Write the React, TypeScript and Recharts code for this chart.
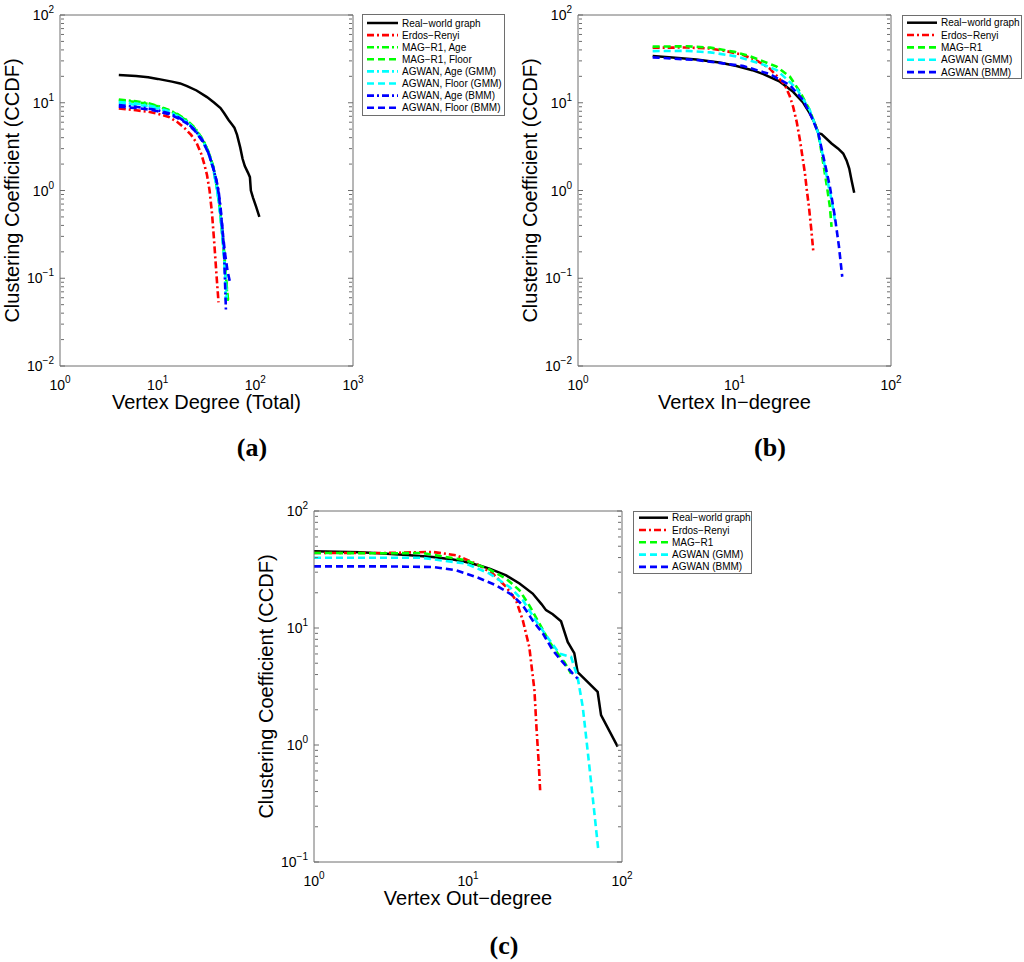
import React from 'react';
import { LineChart, Line, XAxis, YAxis } from 'recharts';

// ---------------- data: panel (a) ----------------
const realA_x = [4, 6, 8, 10, 14, 17, 20, 25, 32, 38, 44, 48, 53, 58, 61, 65, 70, 74, 78, 84, 88, 90, 95, 102, 110];
const realA_y = [20.7, 20.2, 19.5, 18.7, 17.4, 16.6, 15.5, 13.8, 11.6, 10.0, 8.7, 7.6, 6.4, 5.6, 5.2, 4.3, 3.1, 2.3, 1.9, 1.6, 1.42, 1.0, 0.82, 0.65, 0.5];
const erA_x = [4, 6, 8, 10, 13, 16, 19, 22, 25, 28, 30, 32, 34, 36, 38, 40, 42];
const erA_y = [8.6, 8.2, 7.9, 7.5, 6.9, 6.0, 5.1, 4.3, 3.5, 2.6, 2.0, 1.5, 1.0, 0.55, 0.25, 0.11, 0.053];
const magAgeA_x = [4, 6, 8, 10, 13, 16, 20, 24, 29, 33, 37, 40, 42, 44, 46, 48, 50, 52];
const magAgeA_y = [10.9, 10.4, 9.9, 9.2, 8.3, 7.4, 6.3, 5.2, 3.8, 2.8, 1.9, 1.2, 0.85, 0.55, 0.33, 0.2, 0.11, 0.055];
const magFloorA_x = [4, 6, 8, 10, 13, 16, 20, 24, 29, 33, 37, 40, 42, 44, 46, 48, 50, 53];
const magFloorA_y = [10.7, 10.2, 9.7, 9.1, 8.2, 7.3, 6.2, 5.1, 3.8, 2.8, 1.85, 1.15, 0.8, 0.5, 0.3, 0.18, 0.1, 0.052];
const gmmAgeA_x = [4, 6, 8, 10, 13, 16, 20, 24, 29, 33, 37, 40, 42, 44, 46, 48, 49, 50];
const gmmAgeA_y = [10.2, 9.8, 9.3, 8.8, 8.0, 7.1, 6.1, 5.0, 3.7, 2.7, 1.8, 1.1, 0.78, 0.5, 0.3, 0.17, 0.1, 0.055];
const gmmFloorA_x = [4, 6, 8, 10, 13, 16, 20, 24, 29, 33, 37, 40, 42, 44, 46, 48, 50, 51];
const gmmFloorA_y = [9.9, 9.5, 9.1, 8.6, 7.9, 7.0, 6.0, 4.9, 3.7, 2.7, 1.8, 1.15, 0.82, 0.52, 0.31, 0.17, 0.09, 0.06];
const bmmAgeA_x = [4, 6, 8, 10, 13, 16, 20, 24, 29, 33, 37, 40, 42, 44, 46, 48, 50];
const bmmAgeA_y = [9.4, 9.0, 8.6, 8.2, 7.6, 6.9, 5.9, 4.9, 3.7, 2.7, 1.8, 1.3, 1.0, 0.65, 0.38, 0.18, 0.043];
const bmmFloorA_x = [4, 6, 8, 10, 13, 16, 20, 24, 29, 33, 37, 40, 42, 44, 46, 49, 52, 55];
const bmmFloorA_y = [9.0, 8.7, 8.4, 8.0, 7.4, 6.7, 5.8, 4.8, 3.6, 2.7, 1.85, 1.3, 0.95, 0.6, 0.36, 0.19, 0.12, 0.09];

// ---------------- data: panel (b) ----------------
const realB_x = [3, 4, 5.7, 8, 10.3, 13, 15.3, 19.5, 23.7, 27.5, 30, 31.9, 33, 34.3, 36, 41.7, 46, 49.5, 52, 54.1, 56, 58.2];
const realB_y = [34, 32.8, 31.2, 28.8, 26.2, 23.5, 21.2, 17.4, 13.3, 10, 7.8, 6.3, 5.5, 4.5, 4.4, 3.43, 3.0, 2.64, 2.2, 1.78, 1.3, 0.94];
const erB_x = [3, 5, 7, 9, 11.4, 14, 16.8, 19, 21, 22.5, 23.7, 25, 26.2, 27.2, 28.2, 29, 29.9, 31, 31.9];
const erB_y = [42.4, 42.6, 41.5, 38.5, 35, 30, 24.5, 19.5, 15.9, 12, 9, 6, 3.75, 2.4, 1.56, 1.0, 0.65, 0.35, 0.2];
const magB_x = [3, 5, 7, 10, 12.5, 15, 18.6, 22.6, 26.2, 30.3, 34.3, 36, 37.8, 39.3, 40.7, 41.7];
const magB_y = [43.6, 44, 42.5, 38, 34, 30, 25.8, 19.8, 13.3, 8.2, 4.47, 2.7, 1.56, 1.0, 0.65, 0.385];
const gmmB_x = [3, 5, 7, 10, 11.4, 15, 18.6, 24.9, 30.3, 34.3, 36.5, 37.8, 40, 41.7, 43.8];
const gmmB_y = [38.8, 39, 37.5, 34, 32, 27.5, 23.6, 14.6, 8.2, 4.47, 2.6, 1.86, 1.1, 0.78, 0.46];
const bmmB_x = [3, 5.7, 8, 11.4, 16.8, 22.6, 27.5, 31.1, 34.3, 37.8, 40.7, 43.8, 46.5, 48.8];
const bmmB_y = [32.9, 30.7, 28.5, 26.2, 21.2, 15.9, 10.7, 6.9, 4.47, 2.03, 1.1, 0.5, 0.23, 0.104];

// ---------------- data: panel (c) ----------------
const realC_x = [1, 2, 2.8, 4, 5.9, 8, 9.7, 12, 13.8, 17.7, 21.6, 26.3, 30, 32.1, 35.5, 40.2, 44.4, 49, 51.5, 55.6, 69.5, 73.1, 93.7];
const realC_y = [45.3, 44.5, 43.3, 42, 40.5, 38.5, 36.6, 34, 32.2, 28.2, 24, 19.7, 16, 14.2, 13.1, 11.4, 7.6, 6.1, 4.2, 3.8, 2.84, 1.8, 0.97];
const erC_x = [1, 3, 5.9, 8.4, 11.3, 14.5, 17.7, 20.5, 22.7, 25, 27, 27.9, 28.8, 29.4];
const erC_y = [43.8, 43.8, 44.7, 41.8, 35.4, 29.2, 22.4, 17.3, 11.6, 6.9, 2.94, 1.34, 0.695, 0.41];
const magC_x = [1, 3, 5, 9.7, 13.8, 17.7, 21.6, 25, 29.1, 33.8, 38.3, 42.3, 46.7];
const magC_y = [43.8, 43.5, 43.8, 37.9, 31.6, 26.4, 21, 15.6, 10.9, 7.6, 6.05, 5.1, 4.08];
const gmmC_x = [1, 3, 5, 9.7, 13.8, 18.6, 22.7, 27.9, 33.8, 39.2, 46.7, 51.5, 55.6, 59.8, 64.5, 70.2];
const gmmC_y = [39.8, 39.8, 39.8, 35.5, 29.2, 22.4, 17.3, 11.3, 7.9, 6.05, 5.66, 3.8, 2.12, 0.9, 0.36, 0.126];
const bmmC_x = [1, 3, 6, 8.4, 11.3, 15.2, 19.5, 22.7, 26.3, 30.6, 35.5, 41.2, 47.9, 51.5];
const bmmC_y = [33.6, 33.6, 33.2, 31.1, 27.3, 23.2, 19, 15.6, 11.6, 9, 6.46, 5.1, 4.08, 3.7];

// ---------------- tick values ----------------
const xTicksA = [1, 10, 100, 1000];
const xTicksBC = [1, 10, 100];
const yTicksAB = [0.01, 0.1, 1, 10, 100];
const yTicksC = [0.1, 1, 10, 100];

const labelsA = ['Real\u2212world graph', 'Erdos\u2212Renyi', 'MAG\u2212R1, Age', 'MAG\u2212R1, Floor', 'AGWAN, Age (GMM)', 'AGWAN, Floor (GMM)', 'AGWAN, Age (BMM)', 'AGWAN, Floor (BMM)'];
const labelsBC = ['Real\u2212world graph', 'Erdos\u2212Renyi', 'MAG\u2212R1', 'AGWAN (GMM)', 'AGWAN (BMM)'];

// ---------------- styles ----------------
const SANS = '"Liberation Sans", Arial, Helvetica, sans-serif';
const SERIF = '"Liberation Serif", "Times New Roman", serif';
const AX = '#6e6e6e';
const DASHDOT = '7 3 2 3';
const DASHED = '7 4';

type Style = { color: string; dash?: string; w: number };
const stylesA: Style[] = [
  { color: '#000000', w: 2.5 },
  { color: '#ff0000', dash: DASHDOT, w: 2.6 },
  { color: '#00ff00', dash: DASHDOT, w: 2.6 },
  { color: '#00ff00', dash: DASHED, w: 2.6 },
  { color: '#00ffff', dash: DASHDOT, w: 2.6 },
  { color: '#00ffff', dash: DASHED, w: 2.6 },
  { color: '#0000ff', dash: DASHDOT, w: 2.6 },
  { color: '#0000ff', dash: DASHED, w: 2.6 },
];
const stylesBC: Style[] = [
  { color: '#000000', w: 2.5 },
  { color: '#ff0000', dash: DASHDOT, w: 2.6 },
  { color: '#00ff00', dash: DASHED, w: 2.6 },
  { color: '#00ffff', dash: DASHED, w: 2.6 },
  { color: '#0000ff', dash: DASHED, w: 2.6 },
];

const pts = (xs: number[], ys: number[]) => xs.map((x, i) => ({ x, y: ys[i] }));

const seriesA = [
  pts(realA_x, realA_y), pts(erA_x, erA_y), pts(magAgeA_x, magAgeA_y), pts(magFloorA_x, magFloorA_y),
  pts(gmmAgeA_x, gmmAgeA_y), pts(gmmFloorA_x, gmmFloorA_y), pts(bmmAgeA_x, bmmAgeA_y), pts(bmmFloorA_x, bmmFloorA_y),
];
const seriesB = [pts(realB_x, realB_y), pts(erB_x, erB_y), pts(magB_x, magB_y), pts(gmmB_x, gmmB_y), pts(bmmB_x, bmmB_y)];
const seriesC = [pts(realC_x, realC_y), pts(erC_x, erC_y), pts(magC_x, magC_y), pts(gmmC_x, gmmC_y), pts(bmmC_x, bmmC_y)];

const minorTicks = (majors: number[]) => {
  const out: number[] = [];
  for (let i = 0; i < majors.length - 1; i++) for (let m = 2; m <= 9; m++) out.push(majors[i] * m);
  return out;
};

const expText = (v: number) => {
  const e = Math.round(Math.log10(v));
  return e < 0 ? '\u2212' + String(-e) : String(e);
};

const XTick = (p: any) => (
  <text x={p.x} y={p.y + 16} textAnchor="middle" fontFamily={SANS} fontSize={14} fill="#000">
    10<tspan dy={-7} fontSize={10}>{expText(p.payload.value)}</tspan>
  </text>
);
const YTick = (p: any) => (
  <text x={p.x + 2} y={p.y + 5} textAnchor="end" fontFamily={SANS} fontSize={14} fill="#000">
    10<tspan dy={-7} fontSize={10}>{expText(p.payload.value)}</tspan>
  </text>
);
const NoTick = () => <g />;

function frame(xDom: number[], yDom: number[], xMaj: number[], yMaj: number[], xLabel: string) {
  const xMin = minorTicks(xMaj);
  const yMin = minorTicks(yMaj);
  const common = { type: 'number' as const, scale: 'log' as const, allowDataOverflow: true, interval: 0 as const };
  const tl = { stroke: AX, strokeWidth: 1 };
  const al = { stroke: AX, strokeWidth: 1 };
  return [
    <XAxis key="xb" xAxisId="b" dataKey="x" {...common} domain={xDom} ticks={xMaj} tickLine={false}
      axisLine={al} height={54} tick={XTick}
      label={{
        content: (p: any) => {
          const vb = p.viewBox;
          return (
            <text x={vb.x + vb.width / 2} y={vb.y + 43} textAnchor="middle" fontFamily={SANS} fontSize={20} fill="#000">{xLabel}</text>
          );
        },
      }} />,
    <XAxis key="xbM" xAxisId="bM" orientation="bottom" mirror {...common} domain={xDom} ticks={xMaj} tick={NoTick} axisLine={false} tickLine={tl} tickSize={5} height={1} />,
    <XAxis key="xbm" xAxisId="bm" orientation="bottom" mirror {...common} domain={xDom} ticks={xMin} tick={NoTick} axisLine={false} tickLine={tl} tickSize={3} height={1} />,
    <XAxis key="xtM" xAxisId="tM" orientation="top" mirror {...common} domain={xDom} ticks={xMaj} tick={NoTick} axisLine={al} tickLine={tl} tickSize={5} height={1} />,
    <XAxis key="xtm" xAxisId="tm" orientation="top" mirror {...common} domain={xDom} ticks={xMin} tick={NoTick} axisLine={false} tickLine={tl} tickSize={3} height={1} />,
    <YAxis key="yl" yAxisId="l" dataKey="y" {...common} domain={yDom} ticks={yMaj} tickLine={false}
      axisLine={al} width={60} tick={YTick}
      label={{
        content: (p: any) => {
          const vb = p.viewBox;
          const cx = vb.x + 18.5;
          const cy = vb.y + vb.height / 2;
          return (
            <text x={cx} y={cy} transform={`rotate(-90 ${cx} ${cy})`} textAnchor="middle" fontFamily={SANS} fontSize={20} fill="#000">Clustering Coefficient (CCDF)</text>
          );
        },
      }} />,
    <YAxis key="ylM" yAxisId="lM" orientation="left" mirror {...common} domain={yDom} ticks={yMaj} tick={NoTick} axisLine={false} tickLine={tl} tickSize={5} width={1} />,
    <YAxis key="ylm" yAxisId="lm" orientation="left" mirror {...common} domain={yDom} ticks={yMin} tick={NoTick} axisLine={false} tickLine={tl} tickSize={3} width={1} />,
    <YAxis key="yrM" yAxisId="rM" orientation="right" mirror {...common} domain={yDom} ticks={yMaj} tick={NoTick} axisLine={al} tickLine={tl} tickSize={5} width={1} />,
    <YAxis key="yrm" yAxisId="rm" orientation="right" mirror {...common} domain={yDom} ticks={yMin} tick={NoTick} axisLine={false} tickLine={tl} tickSize={3} width={1} />,
  ];
}

function Panel(props: {
  left: number; top: number; width: number; series: { x: number; y: number }[][]; styles: Style[];
  xDom: number[]; yDom: number[]; xMaj: number[]; yMaj: number[]; xLabel: string; names: string[];
}) {
  const { left, top, width, series, styles, xDom, yDom, xMaj, yMaj, xLabel, names } = props;
  return (
    <div style={{ position: 'absolute', left, top, width: width + 20, height: 420 }}>
      <LineChart width={width + 20} height={420} margin={{ top: 15, right: 27, bottom: 0, left: 0 }}>
        {frame(xDom, yDom, xMaj, yMaj, xLabel)}
        {series.map((d, i) => (
          <Line key={names[i]} name={names[i]} data={d} dataKey="y" xAxisId="b" yAxisId="l" type="linear"
            stroke={styles[i].color} strokeWidth={styles[i].w} strokeDasharray={styles[i].dash}
            dot={false} activeDot={false} isAnimationActive={false} />
        ))}
      </LineChart>
    </div>
  );
}

function LegendBox(props: { left: number; top: number; width: number; height: number; first: number; step: number; sample: [number, number]; textX: number; names: string[]; styles: Style[] }) {
  const { left, top, width, height, first, step, sample, textX, names, styles } = props;
  return (
    <svg style={{ position: 'absolute', left, top }} width={width} height={height}>
      <rect x={0.5} y={0.5} width={width - 1} height={height - 1} fill="#fff" stroke={AX} strokeWidth={1} />
      {names.map((n, i) => {
        const y = first + step * i;
        return (
          <g key={n}>
            <line x1={sample[0]} x2={sample[1]} y1={y} y2={y} stroke={styles[i].color} strokeWidth={styles[i].w} strokeDasharray={styles[i].dash} />
            <text x={textX} y={y} dominantBaseline="central" fontFamily={SANS} fontSize={10} fill="#000">{n}</text>
          </g>
        );
      })}
    </svg>
  );
}

export default function App() {
  return (
    <div style={{ position: 'absolute', left: 0, top: 0, width: 1024, height: 962, background: '#fff' }}>
      <Panel left={0} top={0} width={360} series={seriesA} styles={stylesA} xDom={[1, 1000]} yDom={[0.01, 100]}
        xMaj={xTicksA} yMaj={yTicksAB} xLabel="Vertex Degree (Total)" names={labelsA} />
      <Panel left={518} top={0} width={380} series={seriesB} styles={stylesBC} xDom={[1, 100]} yDom={[0.01, 100]}
        xMaj={xTicksBC} yMaj={yTicksAB} xLabel={'Vertex In\u2212degree'} names={labelsBC} />
      <Panel left={254} top={496} width={375} series={seriesC} styles={stylesBC} xDom={[1, 100]} yDom={[0.1, 100]}
        xMaj={xTicksBC} yMaj={yTicksC} xLabel={'Vertex Out\u2212degree'} names={labelsBC} />

      <LegendBox left={362} top={14} width={143} height={102} first={9} step={12.1} sample={[5, 36]} textX={40} names={labelsA} styles={stylesA} />
      <LegendBox left={902} top={15} width={120} height={64} first={7.7} step={12.35} sample={[5, 35]} textX={39} names={labelsBC} styles={stylesBC} />
      <LegendBox left={633} top={511} width={119} height={63} first={6.7} step={12.3} sample={[6, 35]} textX={39} names={labelsBC} styles={stylesBC} />

      <svg style={{ position: 'absolute', left: 0, top: 0, pointerEvents: 'none' }} width={1024} height={962}>
        <text x={252} y={456} textAnchor="middle" fontFamily={SERIF} fontWeight="bold" fontSize={26} fill="#000">(a)</text>
        <text x={770} y={456} textAnchor="middle" fontFamily={SERIF} fontWeight="bold" fontSize={26} fill="#000">(b)</text>
        <text x={504} y={954} textAnchor="middle" fontFamily={SERIF} fontWeight="bold" fontSize={26} fill="#000">(c)</text>
      </svg>
    </div>
  );
}
